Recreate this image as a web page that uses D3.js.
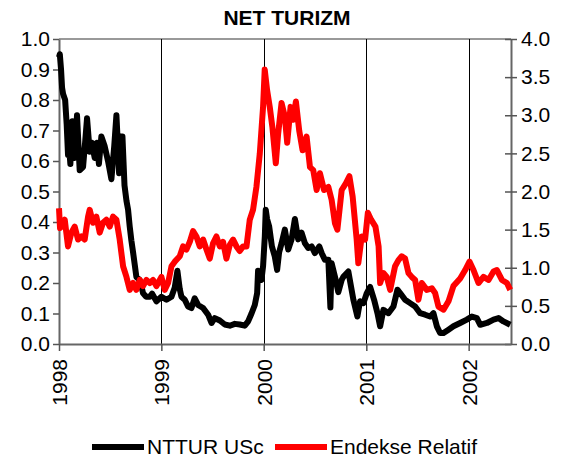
<!DOCTYPE html>
<html>
<head>
<meta charset="utf-8">
<script src="https://cdn.jsdelivr.net/npm/d3@7"></script>
<style>
  body { margin: 0; background: #fff; }
  svg { font-family: "Liberation Sans", Arial, sans-serif; }
</style>
</head>
<body>
<div id="chart-mount"></div>
<script>
var WIDTH = 561;
var HEIGHT = 459;
var MARGIN = { top: 39, right: 50, bottom: 115, left: 59 };

var TITLE = 'NET TURIZM';
var SERIES_NAMES = ['NTTUR USc', 'Endekse Relatif'];
var LEFT_TICKS = [0, 0.1, 0.2, 0.3, 0.4, 0.5, 0.6, 0.7, 0.8, 0.9, 1.0];
var RIGHT_TICKS = [0, 0.5, 1.0, 1.5, 2.0, 2.5, 3.0, 3.5, 4.0];
var YEAR_TICKS = [1998, 1999, 2000, 2001, 2002];
var X_END = '2002-06-01';

// [decimal year, value]
var nttur = [
  [1998.000, 0.94], [1998.008, 0.95], [1998.020, 0.90], [1998.030, 0.84], [1998.040, 0.82],
  [1998.060, 0.80], [1998.075, 0.72], [1998.088, 0.62], [1998.100, 0.64], [1998.111, 0.59],
  [1998.130, 0.73], [1998.153, 0.61], [1998.176, 0.75], [1998.202, 0.57], [1998.235, 0.58],
  [1998.255, 0.66], [1998.274, 0.74], [1998.300, 0.63], [1998.320, 0.66], [1998.349, 0.61],
  [1998.370, 0.66], [1998.390, 0.59], [1998.414, 0.68], [1998.445, 0.65], [1998.479, 0.60],
  [1998.512, 0.54], [1998.540, 0.65], [1998.561, 0.75], [1998.580, 0.62], [1998.587, 0.56],
  [1998.600, 0.68], [1998.620, 0.68], [1998.640, 0.52], [1998.659, 0.47], [1998.675, 0.44],
  [1998.691, 0.385], [1998.707, 0.34], [1998.724, 0.30], [1998.740, 0.26], [1998.756, 0.22],
  [1998.789, 0.21], [1998.805, 0.19], [1998.821, 0.167], [1998.850, 0.155], [1998.887, 0.155],
  [1998.910, 0.165], [1998.952, 0.14], [1999.001, 0.155], [1999.050, 0.145], [1999.099, 0.155],
  [1999.131, 0.185], [1999.157, 0.24], [1999.180, 0.18], [1999.196, 0.155], [1999.229, 0.145],
  [1999.261, 0.123], [1999.294, 0.118], [1999.326, 0.15], [1999.359, 0.128], [1999.408, 0.118],
  [1999.457, 0.096], [1999.490, 0.069], [1999.522, 0.085], [1999.571, 0.077], [1999.620, 0.064],
  [1999.669, 0.06], [1999.718, 0.066], [1999.766, 0.064], [1999.815, 0.06], [1999.848, 0.074],
  [1999.881, 0.10], [1999.913, 0.128], [1999.936, 0.167], [1999.945, 0.24], [1999.978, 0.21],
  [1999.994, 0.255], [2000.011, 0.353], [2000.020, 0.44], [2000.033, 0.41], [2000.053, 0.386],
  [2000.080, 0.32], [2000.108, 0.287], [2000.131, 0.243], [2000.150, 0.30], [2000.174, 0.33],
  [2000.206, 0.375], [2000.239, 0.31], [2000.272, 0.343], [2000.304, 0.41], [2000.336, 0.343],
  [2000.369, 0.365], [2000.402, 0.33], [2000.434, 0.315], [2000.467, 0.32], [2000.499, 0.298],
  [2000.542, 0.32], [2000.565, 0.298], [2000.597, 0.276], [2000.630, 0.276], [2000.650, 0.12],
  [2000.662, 0.265], [2000.695, 0.22], [2000.727, 0.17], [2000.760, 0.21], [2000.776, 0.22],
  [2000.825, 0.238], [2000.850, 0.19], [2000.874, 0.145], [2000.913, 0.09], [2000.939, 0.14],
  [2000.972, 0.134], [2001.005, 0.167], [2001.037, 0.187], [2001.076, 0.145], [2001.109, 0.101],
  [2001.135, 0.058], [2001.167, 0.112], [2001.216, 0.101], [2001.265, 0.123], [2001.304, 0.178],
  [2001.330, 0.167], [2001.379, 0.145], [2001.428, 0.134], [2001.477, 0.123], [2001.526, 0.101],
  [2001.575, 0.096], [2001.623, 0.09], [2001.656, 0.101], [2001.689, 0.058], [2001.721, 0.036],
  [2001.754, 0.036], [2001.803, 0.047], [2001.851, 0.058], [2001.917, 0.069], [2001.982, 0.08],
  [2002.031, 0.09], [2002.080, 0.085], [2002.113, 0.063], [2002.178, 0.069], [2002.243, 0.08],
  [2002.292, 0.085], [2002.340, 0.074], [2002.406, 0.063]
];

var endekse = [
  [1998.000, 1.78], [1998.010, 1.52], [1998.030, 1.55], [1998.056, 1.63], [1998.088, 1.28],
  [1998.121, 1.46], [1998.153, 1.54], [1998.186, 1.37], [1998.219, 1.41], [1998.251, 1.37],
  [1998.284, 1.67], [1998.300, 1.76], [1998.332, 1.59], [1998.365, 1.67], [1998.398, 1.46],
  [1998.430, 1.59], [1998.463, 1.63], [1998.496, 1.54], [1998.528, 1.67], [1998.561, 1.63],
  [1998.593, 1.37], [1998.626, 1.02], [1998.659, 0.88], [1998.691, 0.71], [1998.724, 0.80],
  [1998.756, 0.71], [1998.789, 0.84], [1998.821, 0.76], [1998.854, 0.84], [1998.887, 0.80],
  [1998.919, 0.84], [1998.952, 0.76], [1999.001, 0.88], [1999.033, 0.71], [1999.066, 0.80],
  [1999.099, 1.02], [1999.131, 1.08], [1999.180, 1.15], [1999.212, 1.28], [1999.245, 1.24],
  [1999.278, 1.34], [1999.310, 1.48], [1999.343, 1.41], [1999.375, 1.28], [1999.408, 1.37],
  [1999.441, 1.24], [1999.473, 1.12], [1999.505, 1.32], [1999.538, 1.41], [1999.571, 1.28],
  [1999.603, 1.34], [1999.636, 1.12], [1999.669, 1.30], [1999.701, 1.37], [1999.734, 1.28],
  [1999.766, 1.22], [1999.799, 1.28], [1999.832, 1.28], [1999.864, 1.63], [1999.896, 1.76],
  [1999.929, 2.06], [1999.962, 2.50], [1999.994, 3.11], [2000.010, 3.60], [2000.033, 3.33],
  [2000.059, 3.11], [2000.085, 2.84], [2000.118, 2.37], [2000.141, 2.76], [2000.174, 3.16],
  [2000.206, 2.98], [2000.229, 2.64], [2000.262, 3.11], [2000.288, 2.94], [2000.314, 3.18],
  [2000.346, 2.80], [2000.379, 2.54], [2000.418, 2.72], [2000.451, 2.32], [2000.483, 2.28],
  [2000.516, 2.02], [2000.548, 2.24], [2000.588, 2.02], [2000.630, 2.06], [2000.662, 1.89],
  [2000.695, 1.58], [2000.718, 1.50], [2000.760, 2.02], [2000.802, 2.11], [2000.835, 2.20],
  [2000.867, 1.93], [2000.906, 1.37], [2000.922, 1.06], [2000.955, 1.41], [2000.988, 1.37],
  [2001.015, 1.72], [2001.047, 1.63], [2001.089, 1.54], [2001.120, 1.28], [2001.135, 0.80],
  [2001.167, 0.93], [2001.200, 0.88], [2001.233, 0.71], [2001.281, 1.02], [2001.314, 1.10],
  [2001.346, 1.15], [2001.379, 1.12], [2001.412, 0.93], [2001.444, 0.88], [2001.477, 0.84],
  [2001.509, 0.58], [2001.542, 0.80], [2001.591, 0.71], [2001.640, 0.73], [2001.672, 0.67],
  [2001.705, 0.49], [2001.754, 0.45], [2001.803, 0.56], [2001.851, 0.76], [2001.917, 0.86],
  [2001.966, 0.97], [2002.008, 1.08], [2002.047, 0.97], [2002.096, 0.80], [2002.145, 0.88],
  [2002.194, 0.84], [2002.243, 0.95], [2002.276, 0.97], [2002.325, 0.84], [2002.374, 0.80],
  [2002.406, 0.71]
];

var COLORS = ['#000000', '#ff0000'];
var FONT_SIZE = '21px';

function toDate (decYear) {
  var year = Math.floor(decYear);
  var start = new Date(year, 0, 1);
  var end = new Date(year + 1, 0, 1);
  return new Date(+start + (decYear - year) * (end - start));
}

var innerW = WIDTH - MARGIN.left - MARGIN.right;
var innerH = HEIGHT - MARGIN.top - MARGIN.bottom;

var x = d3.scaleTime()
  .domain([new Date(1998, 0, 1), d3.timeParse('%Y-%m-%d')(X_END)])
  .range([0, innerW]);
var yLeft = d3.scaleLinear().domain([0, 1]).range([innerH, 0]);
var yRight = d3.scaleLinear().domain([0, 4]).range([innerH, 0]);

var $svg = d3.select('#chart-mount').append('svg')
  .attr('width', WIDTH)
  .attr('height', HEIGHT);

$svg.append('text')
  .attr('x', 287)
  .attr('y', 25)
  .attr('text-anchor', 'middle')
  .style('font-size', FONT_SIZE)
  .style('font-weight', 'bold')
  .text(TITLE);

var $plot = $svg.append('g')
  .attr('transform', 'translate(' + MARGIN.left + ',' + MARGIN.top + ')');

// top border of plot area
$plot.append('line')
  .attr('x1', 0).attr('x2', innerW)
  .attr('y1', 0).attr('y2', 0)
  .attr('stroke', '#999')
  .attr('stroke-width', 2);

// vertical year lines
$plot.selectAll('.year-line')
  .data(YEAR_TICKS.slice(1))
  .enter()
    .append('line')
    .attr('class', 'year-line')
    .attr('x1', function (d) { return Math.round(x(new Date(d, 0, 1))) + 0.5; })
    .attr('x2', function (d) { return Math.round(x(new Date(d, 0, 1))) + 0.5; })
    .attr('y1', 0)
    .attr('y2', innerH)
    .attr('stroke', '#000')
    .attr('stroke-width', 1);

function styleAxis ($g) {
  $g.select('.domain').attr('stroke', '#666').attr('stroke-width', 2);
  $g.selectAll('.tick line').attr('stroke', '#555').attr('stroke-width', 1.5);
  $g.selectAll('.tick text')
    .attr('fill', '#000')
    .style('font-size', FONT_SIZE)
    .style('font-family', '"Liberation Sans", Arial, sans-serif');
}

var $left = $plot.append('g')
  .call(d3.axisLeft(yLeft)
    .tickValues(LEFT_TICKS)
    .tickFormat(d3.format('.1f'))
    .tickSizeInner(6)
    .tickSizeOuter(0)
    .tickPadding(3));
styleAxis($left);

var $right = $plot.append('g')
  .attr('transform', 'translate(' + innerW + ',0)')
  .call(d3.axisRight(yRight)
    .tickValues(RIGHT_TICKS)
    .tickFormat(d3.format('.1f'))
    .tickSizeInner(6)
    .tickSizeOuter(0)
    .tickPadding(4));
$right.selectAll('.tick line').attr('x1', -6);
styleAxis($right);

var $bottom = $plot.append('g')
  .attr('transform', 'translate(0,' + innerH + ')')
  .call(d3.axisBottom(x)
    .tickValues(YEAR_TICKS.map(function (d) { return new Date(d, 0, 1); }))
    .tickFormat(d3.timeFormat('%Y'))
    .tickSizeInner(7)
    .tickSizeOuter(0));
styleAxis($bottom);
$bottom.selectAll('.tick text')
  .attr('transform', 'rotate(-90)')
  .attr('x', -15)
  .attr('y', 0)
  .attr('dy', '0.35em')
  .style('text-anchor', 'end');

var lineLeft = d3.line()
  .x(function (d) { return x(toDate(d[0])); })
  .y(function (d) { return yLeft(d[1]); });
var lineRight = d3.line()
  .x(function (d) { return x(toDate(d[0])); })
  .y(function (d) { return yRight(d[1]); });

$plot.append('path')
  .datum(nttur)
  .attr('d', lineLeft)
  .attr('fill', 'none')
  .attr('stroke', COLORS[0])
  .attr('stroke-width', 6)
  .attr('stroke-linejoin', 'round');

$plot.append('path')
  .datum(endekse)
  .attr('d', lineRight)
  .attr('fill', 'none')
  .attr('stroke', COLORS[1])
  .attr('stroke-width', 6)
  .attr('stroke-linejoin', 'round');

// legend
var LEGEND = [
  { name: SERIES_NAMES[0], color: COLORS[0], x: 92 },
  { name: SERIES_NAMES[1], color: COLORS[1], x: 275 }
];
var $legend = $svg.append('g').attr('transform', 'translate(0,447)');
var $items = $legend.selectAll('g')
  .data(LEGEND)
  .enter()
    .append('g')
    .attr('transform', function (d) { return 'translate(' + d.x + ',0)'; });
$items.append('line')
  .attr('x1', 0).attr('x2', 52)
  .attr('y1', 0).attr('y2', 0)
  .attr('stroke', function (d) { return d.color; })
  .attr('stroke-width', 6);
$items.append('text')
  .attr('x', 55)
  .attr('y', 0)
  .attr('dy', '0.35em')
  .style('font-size', FONT_SIZE)
  .text(function (d) { return d.name; });
</script>
</body>
</html>
